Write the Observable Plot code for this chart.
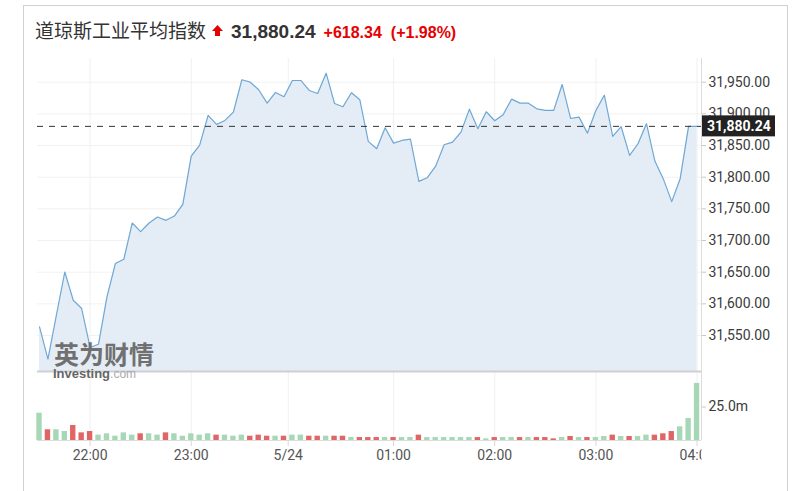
<!DOCTYPE html>
<html>
<head>
<meta charset="utf-8">
<script src="https://cdn.jsdelivr.net/npm/d3@7"></script>
<script src="https://cdn.jsdelivr.net/npm/@observablehq/plot@0.6"></script>
<style>
  body { margin: 0; background: #fff; }
  #wrap { position: relative; width: 805px; height: 491px; overflow: hidden; font-family: Roboto, "Liberation Sans", sans-serif; }
  #frame { position: absolute; left: 23px; top: 5px; width: 765px; height: 500px; border: 1px solid #d0d0d0; box-sizing: border-box; }
  #title { position: absolute; left: 35px; top: 18px; height: 24px; line-height: 24px; display: flex; align-items: baseline; white-space: nowrap; }
  #title .name { font-family: "Noto Sans CJK SC", sans-serif; font-size: 19px; color: #333; }
  #title .arrow { margin-left: 6px; align-self: center; }
  #title .last { margin-left: 8px; font-family: "Liberation Sans", Arial, sans-serif; font-weight: bold; font-size: 19px; color: #333; }
  #title .chg { margin-left: 8px; font-family: "Liberation Sans", Arial, sans-serif; font-weight: bold; font-size: 16px; color: #e60000; }
  #title .pct { margin-left: 9px; font-family: "Liberation Sans", Arial, sans-serif; font-weight: bold; font-size: 16px; color: #e60000; }
  .plot { position: absolute; left: 0; }
  #wm1 { position: absolute; left: 54px; top: 342px; font-family: "Noto Sans CJK SC", sans-serif; font-weight: bold; font-size: 25px; line-height: 23px; color: #707070; }
  #wm2 { position: absolute; left: 53px; top: 368px; font-family: "Liberation Sans", Arial, sans-serif; font-size: 13px; line-height: 11px; color: #666; }
  #wm2 b { font-weight: bold; }
  #wm2 span { color: #aaa; font-size: 12px; }
</style>
</head>
<body>
<div id="wrap">
  <div id="frame"></div>
  <div id="title"></div>
</div>
<script>
// ---- data ----
const seriesName = "道琼斯工业平均指数";
const lastPrice = 31880.24;
const change = 618.34;
const changePct = 1.98;

// 5-minute closes, 21:30 -> 04:00
const prices = [
  31563.6, 31512.6, 31582.0, 31650.3, 31605.7, 31592.6, 31531.1, 31536.3, 31610.9, 31663.6,
  31670.3, 31727.6, 31714.0, 31727.6, 31737.1, 31731.9, 31738.6, 31757.1, 31833.3, 31850.6,
  31897.5, 31883.3, 31889.6, 31902.7, 31953.8, 31950.0, 31938.0, 31916.9, 31933.8, 31927.0,
  31952.7, 31952.7, 31936.9, 31932.2, 31964.2, 31916.4, 31911.2, 31933.3, 31922.2, 31856.5,
  31845.0, 31878.1, 31853.8, 31858.0, 31860.1, 31793.4, 31799.2, 31817.5, 31851.3, 31855.4,
  31871.1, 31907.4, 31876.5, 31903.3, 31889.1, 31898.6, 31923.2, 31916.9, 31916.9, 31908.0,
  31905.4, 31905.4, 31946.4, 31892.7, 31894.8, 31869.6, 31905.4, 31929.5, 31864.4, 31879.7,
  31834.4, 31852.8, 31884.4, 31825.4, 31797.3, 31761.4, 31797.6, 31880.24, 31880.24
];

// volume in millions
const volumes = [
  20.4, 8.0, 8.0, 6.7, 11.2, 5.7, 6.7, 4.0, 5.0, 3.2,
  5.7, 4.0, 5.0, 5.0, 4.0, 5.7, 5.0, 3.2, 5.0, 4.0,
  5.0, 4.0, 4.0, 3.2, 4.0, 3.2, 4.0, 3.2, 3.2, 3.2,
  4.0, 4.0, 3.2, 3.2, 3.2, 3.2, 3.2, 2.2, 2.2, 2.2,
  2.2, 2.2, 2.2, 2.2, 2.2, 4.0, 2.2, 2.2, 2.2, 2.2,
  2.2, 2.2, 2.2, 1.2, 2.2, 2.2, 2.2, 2.2, 2.2, 2.2,
  2.2, 1.2, 2.2, 3.0, 2.2, 2.2, 2.2, 3.0, 4.0, 3.0,
  3.0, 3.0, 4.0, 4.0, 5.0, 6.7, 10.2, 16.4, 42.6
];

// u = up (green), d = down (red)
const volumeDir = [
  "u","d","u","u","d","d","d","u","u","u",
  "u","u","d","u","u","d","u","u","u","u",
  "u","d","u","u","u","d","d","d","u","d",
  "u","u","d","d","u","d","d","u","d","d",
  "d","u","d","u","u","d","u","u","u","u",
  "u","u","d","u","d","u","u","d","u","d",
  "d","d","u","d","u","d","u","u","d","u",
  "d","u","u","d","d","d","u","u","u"
];

const xTickIdx = [6, 18, 29.5, 42, 54, 66, 78];
const xTickLabels = ["22:00", "23:00", "5/24", "01:00", "02:00", "03:00", "04:00"];
const yTicks = [31550, 31600, 31650, 31700, 31750, 31800, 31850, 31900, 31950];
const yDomain = [31493.2, 31987.4];
const xDomain = [-0.24, 78.53];
const volTicks = [25];
const volDomain = [0, 51.5];

// ---- title ----
const fmt2 = d3.format(",.2f");
const title = document.getElementById("title");
title.innerHTML =
  `<span class="name">${seriesName}</span>` +
  `<svg class="arrow" width="11" height="11" viewBox="0 0 11 11"><polygon points="5.5,0 11,6 8,6 8,11 3,11 3,6 0,6" fill="#e60000"/></svg>` +
  `<span class="last">${fmt2(lastPrice)}</span>` +
  `<span class="chg">+${fmt2(change)}</span>` +
  `<span class="pct">(+${changePct.toFixed(2)}%)</span>`;

const data = prices.map((p, i) => ({i, p}));
const vdata = volumes.map((v, i) => ({i, v, up: volumeDir[i] === "u"}));

const green = "#a6d8b7";
const red = "#e06666";

// price tag mark
const priceTag = (index, scales, values, dimensions) => {
  const g = d3.create("svg:g");
  const y = scales.y(lastPrice);
  const x0 = dimensions.width - dimensions.marginRight;
  g.append("rect").attr("x", x0 + 1).attr("y", y - 10.5).attr("width", 73).attr("height", 21).attr("fill", "#222");
  g.append("text").attr("x", x0 + 6).attr("y", y).attr("dy", "0.36em")
    .attr("text-anchor", "start")
    .attr("fill", "#fff").attr("font-weight", "bold").attr("font-size", 14)
    .attr("font-family", "Roboto, sans-serif").text(fmt2(lastPrice));
  return g.node();
};

const pricePlot = Plot.plot({
  width: 805, height: 371,
  marginTop: 58, marginBottom: 0, marginLeft: 37, marginRight: 104,
  style: {background: "transparent", fontFamily: "Roboto, sans-serif", fontSize: "14px", color: "#333", overflow: "visible"},
  x: {domain: xDomain, axis: null},
  y: {domain: yDomain, axis: null},
  marks: [
    Plot.gridX(xTickIdx, {stroke: "#eef0f3", strokeOpacity: 1}),
    Plot.gridY(yTicks, {stroke: "#f1f1f1", strokeOpacity: 1}),
    Plot.areaY(data, {x: "i", y1: yDomain[0], y2: "p", fill: "#e4edf5"}),
    Plot.lineY(data, {x: "i", y: "p", stroke: "#6fa8d6", strokeWidth: 1.2}),
    Plot.ruleY([lastPrice], {stroke: "#333", strokeDasharray: "6,6", strokeWidth: 1}),
    Plot.ruleX([xDomain[1]], {stroke: "#dcdcdc"}),
    Plot.axisY(yTicks, {anchor: "right", label: null, tickSize: 4, tickPadding: 3, tickFormat: fmt2, fontSize: 14, stroke: "#c8c8c8", fill: "#3a3a3a"}),
    priceTag
  ]
});
pricePlot.classList.add("plot");
pricePlot.style.top = "0px";

const volPlot = Plot.plot({
  width: 805, height: 121,
  marginTop: 1, marginBottom: 51, marginLeft: 37, marginRight: 104,
  style: {background: "transparent", fontFamily: "Roboto, sans-serif", fontSize: "14px", color: "#333"},
  x: {domain: xDomain, axis: null},
  y: {domain: volDomain, axis: null},
  color: {type: "identity"},
  marks: [
    Plot.gridX(xTickIdx, {stroke: "#eef0f3", strokeOpacity: 1}),
    Plot.rectY(vdata, {x1: d => d.i - 0.32, x2: d => d.i + 0.32, y1: 0, y2: "v", fill: d => d.up ? green : red}),
    Plot.ruleY([0], {stroke: "#dcdcdc"}),
    Plot.ruleY([volDomain[1]], {stroke: "#d0d0d0", strokeWidth: 2}),
    Plot.ruleX([xDomain[1]], {stroke: "#dcdcdc"}),
    Plot.axisX(xTickIdx, {anchor: "bottom", label: null, tickSize: 6, tickPadding: 4, fontSize: 14, stroke: "#d8d8d8", fill: "#555",
      tickFormat: d => xTickLabels[xTickIdx.indexOf(d)]}),
    Plot.axisY(volTicks, {anchor: "right", label: null, tickSize: 4, tickPadding: 3, fontSize: 14, stroke: "#c8c8c8", fill: "#3a3a3a",
      tickFormat: d => d.toFixed(1) + "m"})
  ]
});
volPlot.classList.add("plot");
volPlot.style.top = "370px";

// clip x tick labels at the right edge of the plot area
const xRight = volPlot.scale("x").apply(xDomain[1]);
const sv = d3.select(volPlot);
sv.append("defs").append("clipPath").attr("id", "xclip")
  .append("rect").attr("x", 0).attr("y", 0).attr("width", xRight).attr("height", 121);
sv.selectAll('g[aria-label="x-axis tick label"]').attr("clip-path", "url(#xclip)");

const wrap = document.getElementById("wrap");
wrap.appendChild(pricePlot);
wrap.appendChild(volPlot);

// watermark
const wm1 = document.createElement("div");
wm1.id = "wm1"; wm1.textContent = "英为财情";
const wm2 = document.createElement("div");
wm2.id = "wm2"; wm2.innerHTML = "<b>Investing</b><span>.com</span>";
wrap.appendChild(wm1);
wrap.appendChild(wm2);
</script>
</body>
</html>
